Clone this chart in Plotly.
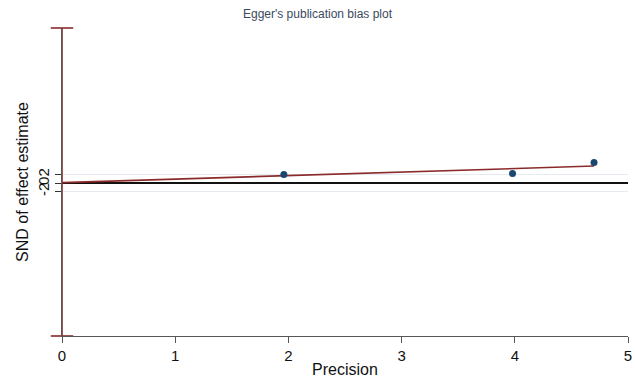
import plotly.graph_objects as go

# Data
precision = [1.96, 3.98, 4.70]
snd = [2.0, 2.2, 4.8]

fit_x = [0.0, 4.70]
fit_y = [0.10, 3.95]

ci_x = [0.0, 0.0]
ci_y = [-35.5, 36.0]

x_ticks = [0, 1, 2, 3, 4, 5]
y_ticks = [-2, 0, 2]
y_labels = ["-2", "0", "2"]

maroon = "#8b2a2a"
navy = "#1a476f"
font = "Liberation Sans, Arial, sans-serif"

fig = go.Figure()

# Confidence interval of the intercept (vertical bar with caps at precision = 0)
fig.add_trace(go.Scatter(
    x=ci_x, y=ci_y, mode="lines+markers",
    line=dict(color=maroon, width=1.6),
    marker=dict(symbol="line-ew", size=16, line=dict(color=maroon, width=1.6)),
    cliponaxis=False, showlegend=False, hoverinfo="skip"))

# Regression line
fig.add_trace(go.Scatter(
    x=fit_x, y=fit_y, mode="lines",
    line=dict(color=maroon, width=1.6),
    showlegend=False))

# Studies
fig.add_trace(go.Scatter(
    x=precision, y=snd, mode="markers",
    marker=dict(color=navy, size=7),
    cliponaxis=False, showlegend=False))

fig.update_layout(
    width=635, height=378,
    margin=dict(l=62, r=7, t=28, b=42, autoexpand=False),
    paper_bgcolor="white", plot_bgcolor="white",
    font=dict(family=font, color="#222"),
    title=dict(text="Egger's publication bias plot", x=0.5, xanchor="center",
               y=1 - 14 / 378, yanchor="middle", yref="container",
               font=dict(size=12, color="#3a4a5e", family=font)),
    xaxis=dict(range=[0, 5], tickvals=x_ticks, showgrid=False, zeroline=False,
               automargin=False,
               showline=True, linecolor="#555", linewidth=1,
               ticks="outside", ticklen=6, tickcolor="#555",
               tickfont=dict(size=15, color="#111"),
               title=dict(text="Precision", font=dict(size=16, color="#111"), standoff=3)),
    yaxis=dict(range=[ci_y[0], ci_y[1]], tickvals=y_ticks, ticktext=y_labels, tickangle=-90,
               automargin=False,
               showgrid=True, gridcolor="#e4eaef", gridwidth=1,
               zeroline=True, zerolinecolor="#111", zerolinewidth=1.6,
               showline=True, linecolor="#555", linewidth=1,
               ticks="outside", ticklen=6, tickcolor="#333",
               tickfont=dict(size=15, color="#111"),
               title=dict(text="SND of effect estimate", font=dict(size=16, color="#111"), standoff=2)),
)

fig.write_html("out.html")
